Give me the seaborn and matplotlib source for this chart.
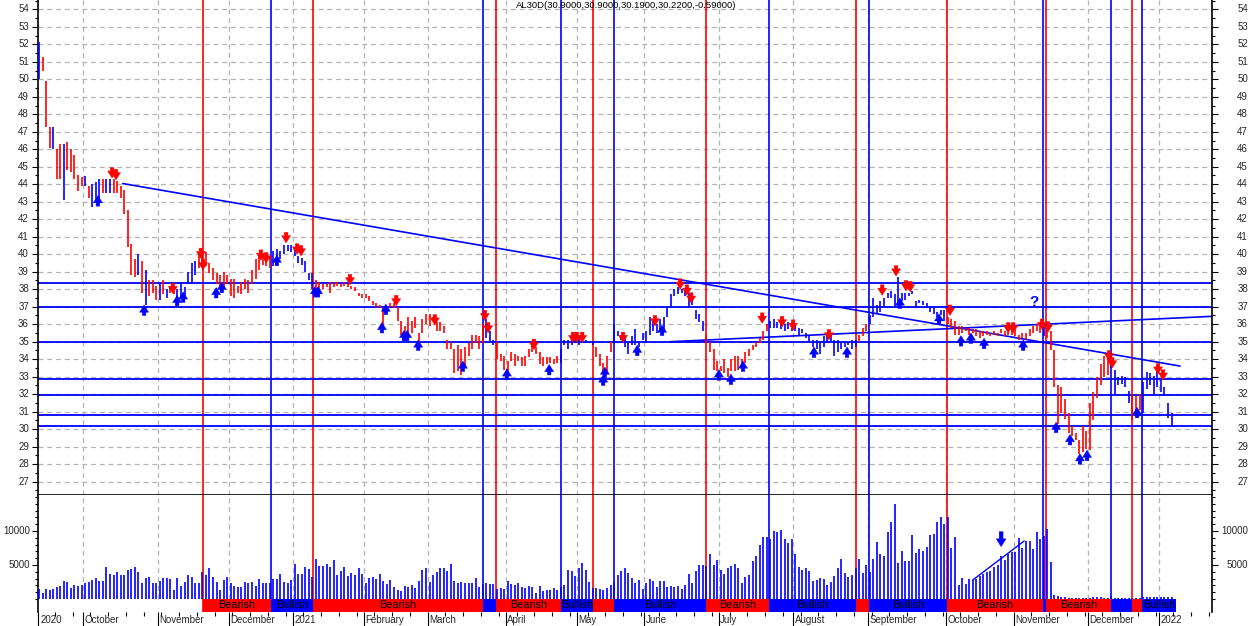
import numpy as np
import matplotlib
matplotlib.use("Agg")
import matplotlib.pyplot as plt
from matplotlib.ticker import MultipleLocator, FixedLocator
import seaborn as sns

# ---------------------------------------------------------------
# values (x = trading-day bar index)
# ---------------------------------------------------------------
lows = [
    50.0, 50.5, 47.3, 46.1, 46.0, 44.3, 44.3, 43.1, 44.8, 44.7,
    44.3, 43.6, 43.9, 43.9, 43.2, 42.7, 43.1, 43.1, 43.5, 43.5,
    43.5, 43.5, 43.5, 43.2, 42.3, 40.4, 38.8, 38.7, 38.8, 37.8,
    37.1, 37.6, 37.8, 37.4, 37.4, 37.7, 37.5, 37.8, 37.7, 37.4,
    37.5, 37.6, 38.3, 38.3, 38.8, 39.2, 39.5, 39.3, 38.9, 38.5,
    38.3, 38.0, 38.0, 38.3, 37.6, 37.5, 37.8, 37.7, 38.0, 37.8,
    38.3, 38.6, 39.1, 39.4, 39.3, 39.2, 39.3, 39.3, 39.7, 40.0,
    40.2, 40.1, 39.9, 39.5, 39.4, 39.0, 38.5, 38.0, 37.9, 37.9,
    38.0, 38.1, 37.8, 38.1, 38.2, 38.1, 38.2, 38.1, 38.0, 37.9,
    37.6, 37.5, 37.5, 37.3, 37.1, 37.0, 36.9, 35.9, 36.7, 37.0,
    36.9, 36.2, 35.4, 35.3, 35.3, 35.5, 35.8, 34.8, 35.5, 36.0,
    35.9, 36.2, 35.6, 35.6, 35.5, 34.6, 34.6, 33.2, 33.3, 33.1,
    33.5, 34.2, 34.6, 34.9, 34.6, 34.9, 35.2, 35.0, 34.8, 34.0,
    33.9, 33.4, 33.2, 33.9, 33.6, 33.9, 33.6, 33.6, 34.1, 34.4,
    34.3, 33.7, 33.6, 33.7, 33.8, 33.7, 33.8, 33.8, 34.8, 34.6,
    34.8, 34.9, 34.8, 34.9, 34.9, 34.9, 34.8, 34.1, 33.6, 33.2,
    33.3, 34.4, 35.0, 35.3, 35.1, 34.7, 34.3, 34.8, 34.8, 34.7,
    35.1, 34.9, 35.4, 35.6, 35.5, 35.6, 35.6, 36.4, 37.0, 37.6,
    37.7, 37.8, 37.6, 37.0, 37.1, 36.3, 36.1, 35.6, 34.9, 34.4,
    33.4, 33.3, 33.3, 33.2, 33.0, 33.3, 33.3, 33.4, 33.6, 33.8,
    34.2, 34.5, 34.7, 34.9, 35.1, 35.6, 35.8, 35.8, 35.8, 35.7,
    35.6, 35.7, 35.6, 35.6, 35.4, 35.5, 35.2, 35.0, 34.7, 34.6,
    34.3, 34.7, 35.0, 35.0, 34.2, 34.4, 34.6, 34.7, 34.8, 34.6,
    34.7, 35.0, 35.3, 35.6, 36.0, 36.4, 36.6, 36.7, 37.0, 37.5,
    37.5, 37.0, 36.9, 37.3, 37.4, 37.6, 37.7, 36.9, 37.2, 37.1,
    37.0, 36.7, 36.6, 36.4, 36.5, 36.2, 36.0, 35.8, 35.4, 35.4,
    35.5, 35.6, 35.4, 35.5, 35.3, 35.2, 35.3, 35.4, 35.3, 35.4,
    35.3, 35.5, 35.3, 35.4, 35.4, 35.3, 35.1, 35.2, 35.1, 35.3,
    35.5, 35.6, 35.5, 35.3, 35.2, 34.5, 32.4, 30.3, 30.9, 30.6,
    29.8, 29.6, 29.4, 28.6, 28.7, 28.85, 28.8, 30.5, 31.8, 32.5,
    33.0, 33.1, 33.5, 32.0, 32.5, 32.6, 32.4, 31.5, 30.5, 30.9,
    31.1, 30.9, 32.3, 32.5, 32.0, 32.4, 32.1, 31.9, 30.66, 30.19,
]
highs = [
    52.15, 51.3, 49.9, 47.3, 47.3, 46.0, 46.3, 46.3, 46.4, 46.0,
    45.7, 44.5, 44.4, 44.45, 43.9, 44.0, 44.1, 44.3, 44.3, 44.3,
    44.3, 44.3, 44.2, 43.9, 43.65, 42.55, 40.6, 39.7, 40.0, 39.6,
    39.1, 38.5, 38.5, 38.2, 38.3, 38.5, 38.0, 38.2, 38.2, 38.0,
    38.4, 38.1, 39.0, 39.5, 39.6, 40.1, 40.0, 40.1, 39.5, 39.2,
    38.9, 38.8, 39.0, 38.8, 38.6, 38.6, 38.2, 38.4, 38.6, 38.5,
    39.1, 39.7, 40.0, 40.0, 40.0, 39.9, 40.2, 40.3, 40.2, 40.5,
    40.5, 40.5, 40.4, 39.9, 39.8, 39.6, 38.9, 38.9, 38.5, 38.4,
    38.3, 38.3, 38.4, 38.4, 38.4, 38.3, 38.4, 38.3, 38.2, 38.1,
    37.8, 37.7, 37.7, 37.6, 37.3, 37.2, 37.1, 36.9, 37.0, 37.2,
    37.2, 37.0, 36.2, 35.9, 36.4, 36.2, 36.4, 35.5, 36.3, 36.6,
    36.6, 36.4, 36.1, 36.1, 35.9, 35.1, 35.0, 34.6, 34.8, 34.6,
    34.7, 34.9, 35.4, 35.4, 35.3, 36.0, 36.3, 35.6, 35.1, 35.0,
    34.3, 34.2, 33.9, 34.4, 34.3, 34.2, 34.1, 34.2, 34.6, 34.8,
    34.7, 34.4, 34.1, 34.1, 34.1, 34.0, 34.2, 34.6, 35.1, 35.1,
    35.2, 35.2, 35.3, 35.1, 35.1, 35.0, 35.0, 34.7, 34.3, 33.8,
    34.2, 35.0, 36.0, 35.6, 35.4, 35.4, 34.9, 35.3, 35.7, 35.0,
    35.5, 35.6, 36.4, 36.2, 36.0, 36.3, 36.4, 37.0, 37.7, 38.0,
    38.1, 38.0, 38.0, 37.8, 37.5, 36.8, 36.6, 36.2, 35.4, 35.0,
    34.6, 33.9, 33.6, 34.0, 33.5, 34.0, 34.2, 34.2, 34.0, 34.4,
    34.6, 34.8, 35.0, 35.2, 35.6, 36.0, 36.2, 36.3, 36.1, 36.1,
    36.0, 36.1, 35.8, 35.9, 35.8, 35.7, 35.5, 35.3, 35.1, 35.1,
    35.0, 35.3, 35.4, 35.4, 35.1, 35.1, 35.0, 35.0, 35.0, 35.1,
    35.1, 35.4, 35.8, 36.0, 36.5, 37.5, 37.1, 37.3, 37.5, 37.8,
    37.9, 37.7, 38.7, 37.8, 37.8, 37.8, 37.9, 37.3, 37.4, 37.3,
    37.2, 37.0, 36.9, 36.7, 36.8, 36.8, 36.4, 36.3, 36.2, 35.9,
    35.9, 35.8, 35.8, 35.7, 35.7, 35.6, 35.6, 35.6, 35.5, 35.6,
    35.5, 35.7, 35.6, 35.6, 35.7, 35.7, 35.4, 35.5, 35.5, 35.7,
    35.9, 36.0, 36.0, 35.9, 35.8, 35.6, 34.5, 32.5, 32.4, 31.7,
    30.9, 30.2, 29.8, 29.4, 30.2, 29.9, 31.5, 32.1, 33.0, 33.7,
    34.2, 34.3, 34.1, 33.4, 33.0, 33.05, 33.0, 32.2, 32.0, 31.9,
    32.0, 32.7, 33.25, 33.2, 33.05, 33.3, 32.8, 32.4, 31.5, 30.9,
]
# bar colours before the first signal (b = blue, r = red)
pre_colors = "brrrbrrbrr" "rrrbrbbbrb" "brrrrrrrbr" "brrrbrbrrb" "bbbbbrr"

volume = [
    1420, 830, 1470, 1320, 1470, 1720, 1910, 2650, 2450, 1570,
    2060, 1910, 2060, 2300, 2550, 2790, 3040, 2650, 2650, 4660,
    3680, 3530, 3970, 3530, 3530, 4260, 4360, 4660, 3970, 2300,
    3140, 3230, 2350, 2350, 2700, 3140, 3140, 2940, 1320, 3090,
    1910, 2500, 3530, 3280, 2400, 2300, 3970, 3530, 4560, 3280,
    2500, 1320, 2790, 3230, 2400, 1910, 1810, 1810, 2500, 2300,
    2500, 1910, 2940, 2300, 2300, 2300, 2940, 2940, 3630, 2500,
    2300, 2790, 5150, 3680, 3680, 4660, 4410, 3280, 5880, 4850,
    4850, 5150, 4660, 5730, 3530, 4120, 4660, 3380, 3820, 3530,
    4560, 3680, 2400, 3140, 3230, 2940, 3680, 2650, 2210, 2790,
    1720, 1320, 1180, 1910, 1810, 2060, 1570, 2650,
    4260, 4510, 2500, 3530, 3970, 4510, 4510, 4120, 5150, 2650,
    2350, 2500, 2350, 2350, 2350, 3090, 1760, 2160, 2350, 2160,
    2210, 1470, 1620, 1470, 2650, 2210, 2060, 2350, 1760, 1570,
    1910, 1760, 880, 1910, 1180, 1320, 1320, 1620, 1320, 1760,
    2060, 4260, 4120, 3380, 4560, 5290, 4260, 2500, 1620, 1620,
    1470, 1320, 1620, 2060, 2500, 3530, 4120, 4560, 3870, 3090,
    2350, 2790, 1470, 2350, 2940, 2650, 1760, 2650, 2650, 1760,
    1910, 1760, 1910, 1470, 2060, 3680, 2350, 4120, 5000, 5000,
    4850, 6620, 5000, 5730, 4260, 3680, 4560, 4850, 5150, 4560,
    2350, 3230, 3530, 5590, 6320, 7940, 9070, 9070, 8870, 10000,
    9900, 10150, 8870, 8190, 8820, 6620, 4710, 4260, 4560, 4120,
    2650, 2790, 3040,
    2940, 2060, 2500, 3380, 4560, 5880, 3820, 3230, 3530, 4560,
    5880, 3820, 5000, 3970, 5880, 8380, 6620, 6320, 9850, 11320,
    13970, 5290, 7060, 5590, 5590, 9410, 6760, 7350, 7060, 7640,
    9410, 9560, 11320, 12050, 11030, 12050, 7500, 9120, 2060, 3140,
    2210, 2940, 2790, 2940, 3380, 3680, 3970, 4170, 4660, 5000,
    6320, 5730, 6620, 6960, 6960, 8970, 7500, 8530, 8530, 7350,
    9850, 8820, 9260, 10290, 5440,
    590, 440, 290, 290, 200, 150, 200, 150, 150, 200,
    150, 290, 290, 290, 200, 200, 440, 200, 150, 200,
    150, 200, 150, 200, 150, 350, 350, 300, 350, 350,
    300, 350, 350, 300,
]

# signal switches (bar position); first one bearish, then alternating
switch_pos = [46.2, 65.4, 77.2, 125.1, 128.7, 147.0, 156.1, 161.9, 187.9,
              205.6, 230.1, 233.8, 255.8, 282.8, 283.7, 302.0, 307.9, 310.7]
band_end = 320.3

levels = [38.35, 37.0, 35.0, 32.85, 31.95, 30.82, 30.17]
down_trend_x, down_trend_y = [23.6, 321.4], [44.04, 33.61]
up_trend_x, up_trend_y = [177.7, 330.4], [35.0, 36.45]
vol_trend_x, vol_trend_y = [263.0, 277.5], [2790, 8530]

sell_idx = [20.6, 21.7, 37.7, 45.6, 46.2, 62.5, 64.0, 69.6, 72.7, 73.8,
            87.6, 100.6, 111.5, 125.6, 126.5, 139.4, 150.4, 151.5, 153.0, 164.5,
            173.5, 180.6, 182.5, 183.7, 203.7, 209.3, 212.4, 222.5, 237.5, 241.4,
            244.2, 245.4, 256.6, 273.0, 274.4, 282.5, 284.2, 301.4, 302.3, 315.2,
            316.6]
sell_px = [44.65, 44.55, 38.05, 40.05, 39.4, 39.95, 39.8, 40.95, 40.3, 40.2,
           38.55, 37.35, 36.25, 36.5, 35.8, 34.85, 35.25, 35.25, 35.25, 35.25,
           36.2, 38.3, 37.95, 37.5, 36.35, 36.15, 35.95, 35.4, 37.95, 39.05,
           38.2, 38.15, 36.8, 35.8, 35.8, 36.0, 35.85, 34.2, 33.8, 33.45,
           33.1]
buy_idx = [16.6, 29.6, 38.9, 40.6, 49.9, 51.5, 67.0, 77.7, 78.6, 96.6,
           97.7, 102.8, 103.7, 106.8, 119.4, 131.8, 143.7, 158.9, 159.4, 168.5,
           175.5, 191.5, 194.9, 198.3, 218.3, 227.6, 242.5, 253.5, 259.7, 262.5,
           266.2, 277.2, 286.5, 290.4, 293.2, 295.2, 309.3]
buy_px = [43.05, 36.8, 37.35, 37.55, 37.8, 38.1, 39.65, 37.85, 37.85, 35.8,
          36.85, 35.35, 35.35, 34.8, 33.6, 33.15, 33.4, 32.8, 33.25, 34.5,
          35.65, 33.1, 32.85, 33.6, 34.4, 34.4, 37.2, 36.3, 35.05, 35.2,
          34.9, 34.8, 30.1, 29.4, 28.3, 28.5, 30.95]

month_pos = [-0.28, 12.5, 33.5, 53.5, 71.5, 91.5, 109.5, 131.5, 151.5,
             170.5, 191.5, 212.5, 233.5, 255.5, 274.5, 295.5, 315.5]
month_lbl = ["2020", "October", "November", "December", "2021", "February",
             "March", "April", "May", "June", "July", "August", "September",
             "October", "November", "December", "2022"]

title_txt = "AL30D(30.9000,30.9000,30.1900,30.2200,-0.59000)"

RED, BLUE = "#ff0000", "#0000ff"
GRID = "#b4b4b4"

sns.set_theme(style="white")
plt.rcParams["font.family"] = ["Liberation Sans", "DejaVu Sans"]
plt.rcParams["axes.edgecolor"] = "black"

n = len(lows)
idx = np.arange(n)

# colour of each bar: before first switch from the list, after it the signal regime
bar_colors = []
for i in range(n):
    if i < switch_pos[0]:
        bar_colors.append(RED if pre_colors[i] == "r" else BLUE)
    else:
        k = np.searchsorted(switch_pos, i, side="right") - 1
        bar_colors.append(RED if k % 2 == 0 else BLUE)

W, H = 1250, 626
fig = plt.figure(figsize=(W / 100, H / 100), dpi=100)
ax_p = fig.add_axes([38 / W, 1 - 495 / H, 1174 / W, 495 / H])
ax_v = fig.add_axes([38 / W, 1 - 612 / H, 1174 / W, 117 / H], sharex=ax_p)

x_lo, x_hi = -0.28, 330.4
ax_p.set_xlim(x_lo, x_hi)
ax_p.set_ylim(26.24, 54.53)
ax_v.set_ylim(-1912, 15294)
band_top = 1912 / (15294 + 1912)

# ── grid ───────────────────────────────────────────────
for lv in range(27, 55):
    ax_p.axhline(lv, color=GRID, ls=(0, (4, 3)), lw=0.9, zorder=0)
for p in month_pos[1:]:
    ax_p.axvline(p, color=GRID, ls=(0, (4, 3)), lw=0.9, zorder=0)
    ax_v.axvline(p, ymin=band_top, color=GRID, ls=(0, (4, 3)), lw=0.9, zorder=0)

# ── signal lines and price levels ──────────────────────
for k, p in enumerate(switch_pos):
    c = RED if k % 2 == 0 else BLUE
    ax_p.axvline(p, color=c, lw=1.2, zorder=2)
    ax_v.axvline(p, color=c, lw=1.2, zorder=2)
for lv in levels:
    ax_p.axhline(lv, color=BLUE, lw=1.3, zorder=2)

sns.lineplot(x=down_trend_x, y=down_trend_y, ax=ax_p, color=BLUE, lw=1.2, zorder=2)
sns.lineplot(x=up_trend_x, y=up_trend_y, ax=ax_p, color=BLUE, lw=1.2, zorder=2)

# ── price bars ─────────────────────────────────────────
ax_p.vlines(idx, lows, highs, colors=bar_colors, lw=1.2, zorder=3)

arrow_style = "simple,head_width=1.0,head_length=0.8,tail_width=0.4"
for i, v in zip(sell_idx, sell_px):
    ax_p.annotate("", xy=(i, v - 0.3), xytext=(i, v + 0.3),
                  arrowprops=dict(arrowstyle=arrow_style, fc=RED, ec=RED, lw=0.3,
                                  shrinkA=0, shrinkB=0, mutation_scale=6.5), zorder=4)
for i, v in zip(buy_idx, buy_px):
    ax_p.annotate("", xy=(i, v + 0.3), xytext=(i, v - 0.3),
                  arrowprops=dict(arrowstyle=arrow_style, fc=BLUE, ec=BLUE, lw=0.3,
                                  shrinkA=0, shrinkB=0, mutation_scale=6.5), zorder=4)
ax_p.text(280.3, 37.25, "?", color=BLUE, fontsize=11, fontweight="bold",
          ha="center", va="center", zorder=4)
ax_p.text((516 - 38) / 1174, 0.997, title_txt, transform=ax_p.transAxes,
          ha="left", va="top", fontsize=6.8, color="black")

# ── volume ─────────────────────────────────────────────
ax_v.vlines(idx, 0, volume, colors=BLUE, lw=1.2, zorder=3)
sns.lineplot(x=vol_trend_x, y=vol_trend_y, ax=ax_v, color=BLUE, lw=1.0, zorder=3)
ax_v.annotate("", xy=(271, 7700), xytext=(271, 9900),
              arrowprops=dict(arrowstyle=arrow_style, fc=BLUE, ec=BLUE, lw=0.3,
                              shrinkA=0, shrinkB=0, mutation_scale=7), zorder=4)

# ── signal band ────────────────────────────────────────
edges = switch_pos + [band_end]
for k in range(len(switch_pos)):
    a, b = edges[k], edges[k + 1]
    bearish = k % 2 == 0
    ax_v.axvspan(a, b, ymin=0, ymax=band_top, color=RED if bearish else BLUE,
                 lw=0, zorder=5)
    if b - a >= 9:
        ax_v.text((a + b) / 2, band_top / 2, "Bearish" if bearish else "Bullish",
                  transform=ax_v.get_xaxis_transform(), ha="center", va="center",
                  fontsize=7.8, color="black", zorder=6)

# ── axes styling ───────────────────────────────────────
for ax in (ax_p, ax_v):
    ax.set_facecolor("white")
    for s in ("left", "right"):
        ax.spines[s].set_color("black")
        ax.spines[s].set_linewidth(1.2)
ax_p.spines["top"].set_visible(False)
ax_p.spines["bottom"].set_color("black")
ax_p.spines["bottom"].set_linewidth(1.2)
ax_v.spines["top"].set_visible(False)
ax_v.spines["bottom"].set_visible(False)

ax_p.yaxis.set_major_locator(MultipleLocator(1))
ax_p.yaxis.set_minor_locator(MultipleLocator(0.5))
ax_p.tick_params(axis="y", which="both", direction="out", left=True, right=True,
                 labelleft=False, labelright=False, color="black")
ax_p.tick_params(axis="y", which="major", length=4, width=0.8)
ax_p.tick_params(axis="y", which="minor", length=2.5, width=0.8)
ax_p.tick_params(axis="x", which="both", bottom=False, labelbottom=False)

for lv in range(27, 55):
    ax_p.text(-9 / 1174, lv, str(lv), transform=ax_p.get_yaxis_transform(),
              ha="right", va="center", fontsize=7, clip_on=False)
    ax_p.text(1 + 36 / 1174, lv, str(lv), transform=ax_p.get_yaxis_transform(),
              ha="right", va="center", fontsize=7, clip_on=False)

ax_v.yaxis.set_major_locator(FixedLocator([5000, 10000]))
ax_v.yaxis.set_minor_locator(FixedLocator(np.arange(0, 15001, 1000)))
ax_v.tick_params(axis="y", which="both", direction="out", left=True, right=True,
                 labelleft=False, labelright=False, color="black")
ax_v.tick_params(axis="y", which="major", length=4, width=0.8)
ax_v.tick_params(axis="y", which="minor", length=2.5, width=0.8)
for vv in (5000, 10000):
    ax_v.text(-8 / 1174, vv, str(vv), transform=ax_v.get_yaxis_transform(),
              ha="right", va="center", fontsize=7, clip_on=False)
    ax_v.text(1 + 36 / 1174, vv, str(vv), transform=ax_v.get_yaxis_transform(),
              ha="right", va="center", fontsize=7, clip_on=False)

# date axis: month boundaries as long ticks, weekly minor ticks
ax_v.xaxis.set_major_locator(FixedLocator(month_pos))
ax_v.xaxis.set_minor_locator(FixedLocator(np.arange(4.5, 330, 5)))
ax_v.tick_params(axis="x", which="major", direction="out", length=10, width=0.8,
                 color="black", labelbottom=False, bottom=True)
ax_v.tick_params(axis="x", which="minor", direction="out", length=3, width=0.8,
                 color="black", bottom=True)
for p, lbl in zip(month_pos, month_lbl):
    ax_v.annotate(lbl, xy=(max(p, 0), 0), xycoords=ax_v.get_xaxis_transform(),
                  xytext=(1.0, -2.2), textcoords="offset points",
                  ha="left", va="top", fontsize=7, annotation_clip=False)

ax_p.set_xlabel("")
ax_p.set_ylabel("")
ax_v.set_xlabel("")
ax_v.set_ylabel("")
ax_p.set_xlim(x_lo, x_hi)

fig.savefig("out.png", dpi=100)
